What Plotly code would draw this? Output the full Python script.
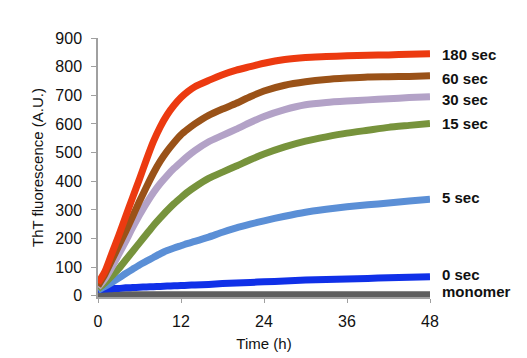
import plotly.graph_objects as go

time_h = [0, 1, 2, 3, 4, 5, 6, 7, 8, 9, 10, 11, 12, 13, 14, 16, 18, 20, 22, 24, 27, 30, 33, 36, 39, 42, 45, 48]

monomer = [5, 4, 4, 4, 4, 4, 4, 4, 4, 4, 4, 4, 4, 4, 4, 4, 4, 4, 4, 4, 4, 4, 4, 4, 4, 4, 4, 4]
sec_0 = [22, 24, 25, 26, 28, 29, 30, 31, 32, 33, 34, 35, 36, 37, 38, 40, 43, 45, 47, 49, 52, 55, 57, 59, 61, 63, 65, 67]
sec_5 = [20, 33, 47, 62, 78, 93, 108, 121, 134, 147, 158, 167, 175, 183, 190, 205, 222, 237, 250, 262, 278, 292, 302, 311, 318, 324, 331, 337]
sec_15 = [25, 45, 70, 95, 125, 155, 185, 215, 245, 272, 298, 322, 343, 363, 380, 410, 432, 453, 475, 495, 520, 540, 555, 568, 578, 588, 595, 602]
sec_30 = [30, 60, 100, 145, 190, 238, 282, 323, 360, 392, 420, 445, 467, 488, 507, 538, 560, 582, 605, 626, 650, 667, 675, 680, 684, 688, 692, 695]
sec_60 = [35, 75, 125, 175, 225, 277, 330, 380, 428, 470, 505, 535, 562, 582, 600, 630, 652, 672, 695, 715, 735, 747, 755, 760, 764, 765, 766, 768]
sec_180 = [45, 85, 148, 211, 277, 343, 408, 475, 538, 590, 632, 665, 692, 713, 730, 752, 772, 788, 800, 812, 825, 832, 835, 838, 840, 841, 843, 845]

series_names = ["monomer", "0 sec", "5 sec", "15 sec", "30 sec", "60 sec", "180 sec"]
series_values = [monomer, sec_0, sec_5, sec_15, sec_30, sec_60, sec_180]
series_colors = ["#5f5f5f", "#1030e8", "#5b8fd6", "#77933c", "#b3a2c7", "#9a5218", "#ec3a10"]
label_y = [14, 73, 345, 603, 687, 760, 844]

fig = go.Figure()
for name, vals, col in zip(series_names, series_values, series_colors):
    fig.add_trace(go.Scatter(x=time_h, y=vals, mode="lines", name=name,
                             line=dict(color=col, width=7, shape="spline", smoothing=0.6)))

for name, ly in zip(series_names, label_y):
    fig.add_annotation(x=48, y=ly, xref="x", yref="y", text="<b>%s</b>" % name,
                       showarrow=False, xanchor="left", xshift=10,
                       font=dict(family="Liberation Sans, Arial", size=15, color="#111"))

fig.update_layout(
    width=527, height=358,
    margin=dict(l=90, r=105, t=30, b=69),
    plot_bgcolor="white", paper_bgcolor="white",
    showlegend=False,
    font=dict(family="Liberation Sans, Arial", size=16, color="#111"),
    xaxis=dict(range=[0, 48], tickvals=[0, 12, 24, 36, 48], showgrid=False, zeroline=False,
               showline=True, linecolor="#a0a0a0", linewidth=1.5, ticks="outside", ticklen=4,
               tickcolor="#a0a0a0", ticklabelstandoff=5,
               title=dict(text="Time (h)", font=dict(size=15), standoff=10)),
    yaxis=dict(range=[-4, 900], tickvals=list(range(0, 901, 100)), showgrid=False, zeroline=False,
               showline=True, linecolor="#a0a0a0", linewidth=1.5, ticks="outside", ticklen=5,
               tickcolor="#a0a0a0", ticklabelstandoff=6,
               title=dict(text="ThT fluorescence (A.U.)", font=dict(size=15), standoff=8)),
)

fig.write_html("out.html")
